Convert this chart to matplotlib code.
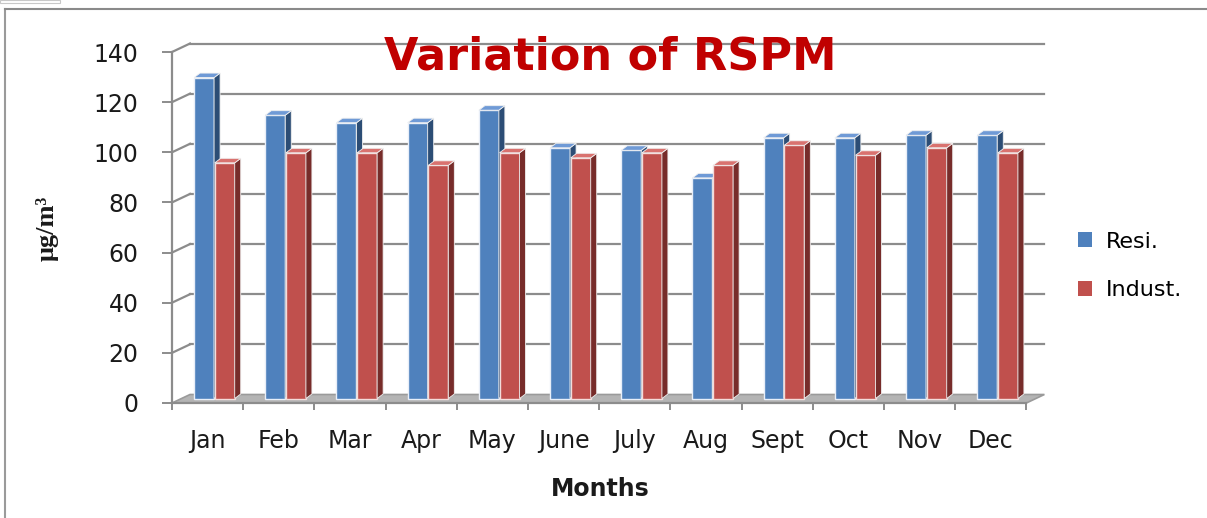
import matplotlib
matplotlib.use("Agg")
import matplotlib.pyplot as plt
from matplotlib.patches import Polygon, Rectangle, Patch
from matplotlib.lines import Line2D

months = ["Jan", "Feb", "Mar", "Apr", "May", "June", "July", "Aug", "Sept", "Oct", "Nov", "Dec"]
resi = [128, 113, 110, 110, 115, 100, 99, 88, 104, 104, 105, 105]
indust = [94, 98, 98, 93, 98, 96, 98, 93, 101, 97, 100, 98]
yticks = [0, 20, 40, 60, 80, 100, 120, 140]
series_names = ["Resi.", "Indust."]

W, H = 1207, 518
fig = plt.figure(figsize=(W / 100, H / 100), dpi=100)

# front-axis box in pixels
x0p, x1p = 172, 1026.4
y0p, y1p = 403, 52
ax = fig.add_axes([x0p / W, 1 - y0p / H, (x1p - x0p) / W, (y0p - y1p) / H])
ax.set_xlim(0, 12)
ax.set_ylim(0, 140)
for s in ax.spines.values():
    s.set_visible(False)

pxx = (x1p - x0p) / 12.0   # px per category
pxy = (y0p - y1p) / 140.0  # px per unit

# perspective offsets
wdx, wdy = 18 / pxx, 8.5 / pxy      # back wall
bdx, bdy = 0.0, 4.5 / pxy           # bar plane base
ddx, ddy = 6 / pxx, 4.5 / pxy       # bar depth
bw = 20 / pxx

grid_c = "#8c8c8c"

# floor
ax.add_patch(Polygon([(0, 0), (wdx, wdy), (12 + wdx, wdy), (12, 0)], closed=True,
                     facecolor="#b4b4b4", edgecolor="#9a9a9a", lw=1.2, zorder=1, clip_on=False))
# back wall gridlines
for v in yticks[1:]:
    ax.add_line(Line2D([wdx, 12 + wdx], [v + wdy, v + wdy], color=grid_c, lw=1.6, zorder=1, clip_on=False))
    ax.add_line(Line2D([0, wdx], [v, v + wdy], color=grid_c, lw=1.6, zorder=1, clip_on=False))
# left wall edge
ax.add_line(Line2D([0, 0], [0, 140], color=grid_c, lw=1.6, zorder=2, clip_on=False))

colors = {
    0: ("#4f81bd", "#2c4d75", "#6f9ad6"),
    1: ("#c0504d", "#772c2a", "#d9726f"),
}

z = 3
for i in range(12):
    for k, vals in enumerate([resi, indust]):
        v = vals[i]
        left = i + (0.31 if k == 0 else 0.60)
        front, side, top = colors[k]
        bars = ax.bar(left, v, width=bw, bottom=bdy, align="edge", color=front,
                      edgecolor="#e8eef8" if k == 0 else "#f3dcdb", lw=1.0, zorder=z,
                      label=series_names[k] if i == 0 else None)
        r = bars[0]
        xl, xr = r.get_x(), r.get_x() + r.get_width()
        yb, yt = r.get_y(), r.get_y() + r.get_height()
        ax.add_patch(Polygon([(xr, yb), (xr + ddx, yb + ddy), (xr + ddx, yt + ddy), (xr, yt)],
                             closed=True, facecolor=side, edgecolor="#f0f0f0", lw=0.6, zorder=z))
        ax.add_patch(Polygon([(xl, yt), (xl + ddx, yt + ddy), (xr + ddx, yt + ddy), (xr, yt)],
                             closed=True, facecolor=top, edgecolor="#f0f0f0", lw=0.6, zorder=z))
        z += 1

# x axis front line
ax.add_line(Line2D([0, 12], [0, 0], color=grid_c, lw=1.6, zorder=50, clip_on=False))

# ticks
ax.set_yticks(yticks)
ax.set_yticklabels([str(v) for v in yticks], fontsize=17, color="#1a1a1a", family="DejaVu Sans")
ax.tick_params(axis="y", direction="out", length=7, width=1.4, color=grid_c, pad=17)
ax.set_xticks(range(13))
ax.set_xticklabels([])
ax.tick_params(axis="x", which="major", direction="out", length=5, width=1.4, color=grid_c)
ax.set_xticks([i + 0.5 for i in range(12)], minor=True)
ax.set_xticklabels(months, minor=True, fontsize=17, color="#1a1a1a", family="DejaVu Sans")
ax.tick_params(axis="x", which="minor", length=0, pad=19)

# labels
fig.text(600 / W, 1 - 489 / H, "Months", ha="center", va="center", fontsize=17,
         fontweight="bold", family="DejaVu Sans", color="#1a1a1a")
fig.text(47 / W, 1 - 228 / H, "μg/m³", ha="center", va="center", rotation=90, fontsize=19,
         fontweight="bold", family="Liberation Serif", color="#1a1a1a")
fig.text(610 / W, 1 - 57 / H, "Variation of RSPM", ha="center", va="center", fontsize=32,
         fontweight="bold", family="DejaVu Sans", color="#c00000", zorder=100)

# legend
handles = [Patch(facecolor=colors[0][0], edgecolor="none"), Patch(facecolor=colors[1][0], edgecolor="none")]
fig.legend(handles, series_names, loc="center left", bbox_to_anchor=(1058 / W, 1 - 266 / H),
           frameon=False, handlelength=0.65, handleheight=0.65, handletextpad=0.6,
           labelspacing=1.3, prop={"family": "DejaVu Sans", "size": 16})

# outer frame
fig.add_artist(Line2D([5 / W, 5 / W], [0, 1 - 9 / H], transform=fig.transFigure, color="#9a9a9a", lw=1.5))
fig.add_artist(Line2D([5 / W, 1], [1 - 9 / H, 1 - 9 / H], transform=fig.transFigure, color="#8a8a8a", lw=1.5))
fig.add_artist(Rectangle((0, 1 - 3 / H), 60 / W, 3 / H, transform=fig.transFigure,
                         facecolor="white", edgecolor="#c8c8c8", lw=0.8))

fig.savefig("out.png", dpi=100)
